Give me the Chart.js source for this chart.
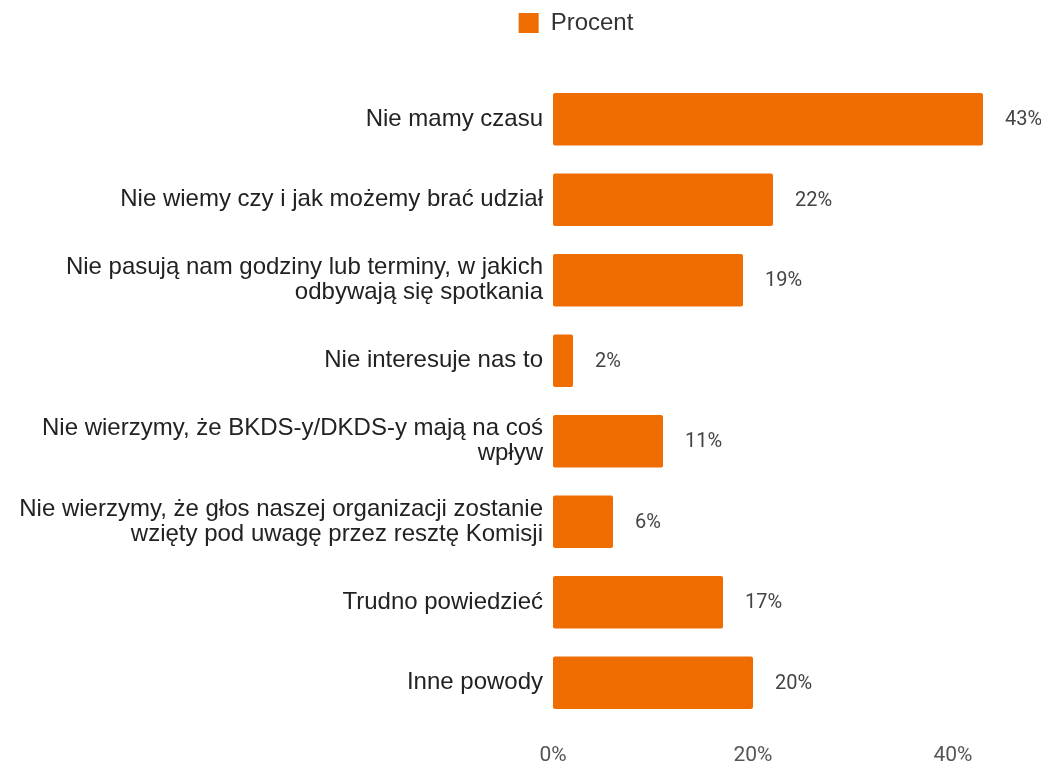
<!DOCTYPE html>
<html>
<head>
<meta charset="utf-8">
<script src="https://cdn.jsdelivr.net/npm/chart.js@4"></script>
<style>
  html, body { margin: 0; padding: 0; background: #fff; }
  #wrap { width: 1041px; height: 768px; }
</style>
</head>
<body>
<div id="wrap"><canvas id="chart"></canvas></div>
<script>
const categories = [
  'Nie mamy czasu',
  'Nie wiemy czy i jak możemy brać udział',
  ['Nie pasują nam godziny lub terminy, w jakich', 'odbywają się spotkania'],
  'Nie interesuje nas to',
  ['Nie wierzymy, że BKDS-y/DKDS-y mają na coś', 'wpływ'],
  ['Nie wierzymy, że głos naszej organizacji zostanie', 'wzięty pod uwagę przez resztę Komisji'],
  'Trudno powiedzieć',
  'Inne powody',
];
const percent = [43, 22, 19, 2, 11, 6, 17, 20];
const xTicks = [0, 20, 40];

const BAR = '#ef6c00';
const AXIS_LEFT = 553;

// value label to the right of each bar
const valueLabels = {
  id: 'valueLabels',
  afterDatasetsDraw(chart) {
    const { ctx } = chart;
    const meta = chart.getDatasetMeta(0);
    ctx.save();
    ctx.fillStyle = '#444';
    ctx.font = '20px Roboto';
    ctx.textBaseline = 'middle';
    meta.data.forEach((bar, i) => {
      ctx.fillText(percent[i] + '%', bar.x + 22, bar.y + 1);
    });
    ctx.restore();
  }
};

// legend sits over the bars, not over the whole canvas
const legendShift = {
  id: 'legendShift',
  afterLayout(chart) {
    chart.legend.left = 122;
    chart.legend.top = 1;
  }
};

new Chart(document.getElementById('chart'), {
  type: 'bar',
  data: {
    labels: categories,
    datasets: [{
      label: 'Procent',
      data: percent,
      backgroundColor: BAR,
      borderRadius: 2,
      borderSkipped: false,
      categoryPercentage: 1,
      barPercentage: 0.65,
    }],
  },
  options: {
    indexAxis: 'y',
    responsive: true,
    maintainAspectRatio: false,
    animation: false,
    layout: { padding: { left: 0, right: 11, top: 35, bottom: 0 } },
    plugins: {
      legend: {
        position: 'top',
        labels: {
          color: '#333',
          font: { family: 'Liberation Sans', size: 24 },
          boxWidth: 20, boxHeight: 20,
          padding: 10,
        },
      },
      tooltip: { enabled: false },
    },
    scales: {
      x: {
        min: 0, max: 47.7,
        afterBuildTicks: s => { s.ticks = xTicks.map(v => ({ value: v })); },
        afterFit: s => { s.height = 45; },
        ticks: {
          color: '#555', padding: 20,
          font: { family: 'Roboto', size: 21 },
          callback: v => v + '%',
        },
        grid: { display: false, drawTicks: false },
        border: { display: false },
      },
      y: {
        afterFit: s => { s.width = AXIS_LEFT; },
        ticks: {
          color: '#222', padding: 10,
          font: { family: 'Liberation Sans', size: 24, lineHeight: 1.05 },
        },
        grid: { display: false, drawTicks: false },
        border: { display: false },
      },
    },
  },
  plugins: [valueLabels, legendShift],
});
</script>
</body>
</html>
